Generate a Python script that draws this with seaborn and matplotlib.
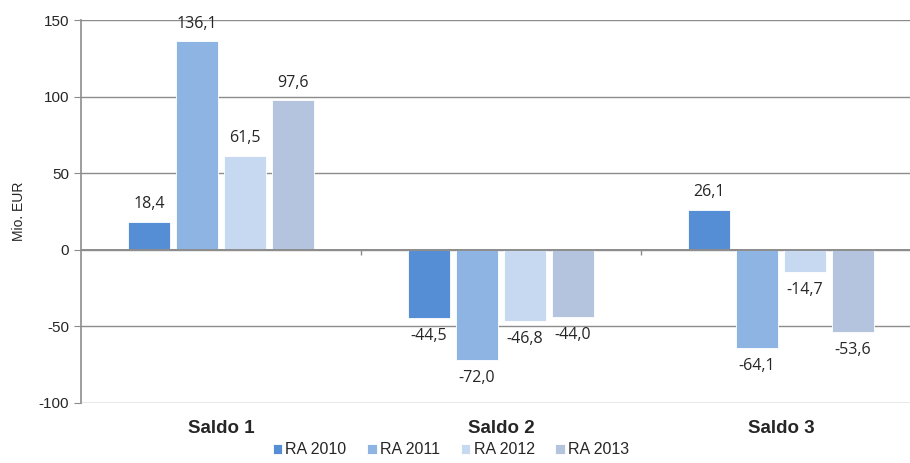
import pandas as pd
import numpy as np
import matplotlib
matplotlib.use("Agg")
import matplotlib.pyplot as plt
import seaborn as sns

# ---- data ---- #
categories = ["Saldo 1", "Saldo 2", "Saldo 3"]
series = ["RA 2010", "RA 2011", "RA 2012", "RA 2013"]
ra2010 = [18.4, -44.5, 26.1]
ra2011 = [136.1, -72.0, -64.1]
ra2012 = [61.5, -46.8, -14.7]
ra2013 = [97.6, -44.0, -53.6]
colors = ["#558ED5", "#8EB4E3", "#C6D9F1", "#B4C3DE"]

df = pd.DataFrame({
    "cat": categories * 4,
    "series": np.repeat(series, 3),
    "value": ra2010 + ra2011 + ra2012 + ra2013,
})

sns.set_style("white")
plt.rcParams["font.family"] = ["Liberation Sans", "DejaVu Sans"]
plt.rcParams["axes.unicode_minus"] = False

fig = plt.figure(figsize=(9.1, 4.63), dpi=100)
ax = fig.add_axes([81 / 910, 1 - 403 / 463, 1 - 81 / 910 + 0.012, (403 - 20) / 463])

sns.barplot(data=df, x="cat", y="value", hue="series", order=categories,
            hue_order=series, palette=colors, saturation=1, width=0.686, gap=0.12,
            edgecolor="white", linewidth=0.6, ax=ax, legend=True)

# ---- value labels ---- #
for cont in ax.containers:
    labels = [f"{v:.1f}".replace(".", ",") for v in cont.datavalues]
    for bar, lab, v in zip(cont, labels, cont.datavalues):
        x = bar.get_x() + bar.get_width() / 2
        if v >= 0:
            ax.annotate(lab, (x, v), xytext=(0, 7), textcoords="offset points",
                        ha="center", va="bottom", fontsize=11.5, family="Open Sans")
        else:
            ax.annotate(lab, (x, v), xytext=(0, -7), textcoords="offset points",
                        ha="center", va="top", fontsize=11.5, family="Open Sans")

# ---- axes styling ---- #
ax.set_ylim(-100, 150)
ax.set_xlim(-0.5, 2.5)
ax.set_yticks([-100, -50, 0, 50, 100, 150])
ax.yaxis.grid(True, color="#8c8c8c", linewidth=1.0)
ax.set_axisbelow(True)
for s in ["top", "right", "bottom"]:
    ax.spines[s].set_visible(False)
ax.spines["left"].set_color("#8c8c8c")
ax.spines["left"].set_linewidth(1.2)
ax.axhline(0, color="#8c8c8c", linewidth=1.4, zorder=3)
ax.vlines([0.5, 1.5], -3.3, 0, color="#8c8c8c", linewidth=1.0)

ax.tick_params(axis="y", length=5, color="#8c8c8c", labelsize=11, left=True)
ax.tick_params(axis="x", length=0, pad=12)
ax.set_xticks(range(3))
ax.set_xticklabels(categories, fontsize=13.5, fontweight="bold")
ax.set_xlabel("")
ax.set_ylabel("Mio. EUR", fontsize=10)
ax.yaxis.set_label_coords(-0.066, 0.5)

ax.legend(loc="lower center", bbox_to_anchor=(451 / 910, -0.012), bbox_transform=fig.transFigure,
          ncol=4, frameon=False, fontsize=11.5, handlelength=0.6, handleheight=0.6,
          handletextpad=0.2, columnspacing=1.3, borderpad=0.2)

fig.savefig("out.png", dpi=100)
